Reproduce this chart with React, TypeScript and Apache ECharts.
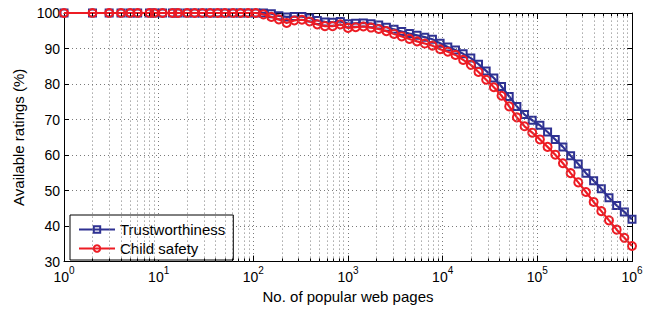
import React, { useEffect, useRef } from "react";
import * as echarts from "echarts";

// x: number of popular web pages (log-spaced sample points)
const pages = [
  1, 2, 3, 4, 5, 6, 8, 9, 11, 14, 16, 20, 24, 29, 35, 42, 50, 61, 73, 88,
  106, 128, 155, 186, 225, 271, 326, 393, 474, 571, 688, 830,
  1000, 1205, 1453, 1751, 2110, 2543, 3065, 3694, 4453, 5367, 6469, 7797, 9397,
  11326, 13651, 16453, 19830, 23901, 28808, 34721, 41849, 50440, 60794, 73273, 88315,
  106445, 128296, 154633, 186377, 224638, 270754, 326336, 393328, 474071, 571390, 688687, 830064,
  1000000,
];

const trustworthiness = [
  100, 100, 100, 100, 100, 100, 100, 100, 100, 100, 100, 100, 100, 100, 100, 100, 100, 100, 100, 100,
  100, 100, 99.8, 99.2, 98.9, 99.0, 99.0, 98.6, 97.9, 97.5, 97.4, 97.6,
  97.0, 97.1, 97.2, 97.0, 96.6, 96.0, 95.4, 94.8, 94.2, 93.7, 93.2, 92.6, 91.5,
  90.4, 89.6, 88.5, 87.3, 85.6, 83.7, 81.7, 79.3, 76.5, 73.7, 71.4, 69.8,
  68.4, 66.5, 64.4, 62.3, 59.8, 57.5, 54.9, 52.8, 50.5, 48.0, 45.8, 44.0,
  41.9,
];

const childSafety = [
  100, 100, 100, 100, 100, 100, 100, 100, 100, 100, 100, 100, 100, 100, 100, 100, 100, 100, 100, 100,
  100, 99.6, 98.9, 98.2, 97.2, 97.9, 98.1, 97.6, 96.8, 96.3, 96.3, 96.8,
  95.8, 96.0, 96.2, 95.9, 95.5, 94.9, 94.1, 93.4, 92.7, 92.0, 91.4, 90.8, 89.8,
  89.1, 88.2, 86.8, 85.4, 83.4, 81.2, 79.1, 76.7, 73.7, 70.6, 68.1, 66.3,
  64.4, 62.3, 60.1, 57.7, 54.9, 52.3, 49.6, 46.8, 44.2, 41.6, 39.0, 36.7,
  34.4,
];

const decades = [1, 10, 100, 1000, 10000, 100000];
const minorMultipliers = [2, 3, 4, 5, 6, 7, 8, 9];
const yMin = 30;
const yMax = 100;

const FONT = "'Liberation Sans', Arial, Helvetica, sans-serif";

export default function App() {
  const ref = useRef<HTMLDivElement>(null);

  useEffect(() => {
    if (!ref.current) return;
    const chart = echarts.init(ref.current, undefined, { renderer: "svg" });

    const minorX = decades.flatMap((d) => minorMultipliers.map((m) => m * d));
    const dotted = { type: [1, 3] as any, color: "#7a7a7a", width: 1 };

    const option: any = {
      animation: false,
      backgroundColor: "#fff",
      textStyle: { fontFamily: FONT },
      grid: { left: 64, right: 24, top: 13, bottom: 46, containLabel: false },
      legend: {
        data: ["Trustworthiness", "Child safety"],
        orient: "vertical",
        left: 70,
        top: 215,
        padding: [7, 8, 4, 8],
        itemGap: 4,
        itemWidth: 36,
        itemHeight: 8,
        backgroundColor: "#fff",
        borderColor: "#000",
        borderWidth: 1,
        borderRadius: 0,
        textStyle: { fontSize: 15, color: "#000", fontFamily: FONT, lineHeight: 14 },
      },
      xAxis: [
        {
          type: "log",
          logBase: 10,
          min: 1,
          max: 1000000,
          name: "No. of popular web pages",
          nameLocation: "middle",
          nameGap: 26,
          nameTextStyle: { fontSize: 15, color: "#000", fontFamily: FONT },
          axisLine: { show: true, lineStyle: { color: "#000", width: 1 } },
          axisTick: { show: true, inside: true, length: 6, lineStyle: { color: "#000" } },
          axisLabel: {
            margin: 5,
            color: "#000",
            formatter: (v: number) => `{b|10}{e|${Math.round(Math.log10(v))}}`,
            rich: {
              b: { fontSize: 14, fontFamily: FONT, color: "#000", lineHeight: 16, padding: [5, 0, 0, 0] },
              e: { fontSize: 10, fontFamily: FONT, color: "#000", lineHeight: 12, padding: [0, 0, 9, 0] },
            },
          },
          splitLine: { show: true, lineStyle: dotted },
        },
        {
          type: "log",
          logBase: 10,
          min: 1,
          max: 1000000,
          position: "top",
          axisLine: { show: true, lineStyle: { color: "#000", width: 1 } },
          axisTick: { show: true, inside: true, length: 6, lineStyle: { color: "#000" } },
          axisLabel: { show: false },
          splitLine: { show: false },
        },
      ],
      yAxis: [
        {
          type: "value",
          min: yMin,
          max: yMax,
          interval: 10,
          name: "Available ratings (%)",
          nameLocation: "middle",
          nameGap: 36,
          nameTextStyle: { fontSize: 15, color: "#000", fontFamily: FONT },
          axisLine: { show: true, lineStyle: { color: "#000", width: 1 } },
          axisTick: { show: true, inside: true, length: 5, lineStyle: { color: "#000" } },
          axisLabel: { fontSize: 14, color: "#000", margin: 4, fontFamily: FONT },
          splitLine: { show: true, lineStyle: dotted },
        },
        {
          type: "value",
          min: yMin,
          max: yMax,
          interval: 10,
          position: "right",
          axisLine: { show: true, lineStyle: { color: "#000", width: 1 } },
          axisTick: { show: true, inside: true, length: 5, lineStyle: { color: "#000" } },
          axisLabel: { show: false },
          splitLine: { show: false },
        },
      ],
      series: [
        {
          name: "gridlines",
          type: "line",
          data: [],
          silent: true,
          z: 0,
          markLine: {
            silent: true,
            symbol: ["none", "none"],
            label: { show: false },
            lineStyle: dotted,
            emphasis: { disabled: true },
            data: minorX.map((x) => ({ xAxis: x })),
          },
        },
        {
          name: "ticks",
          type: "line",
          data: [],
          silent: true,
          z: 1,
          markLine: {
            silent: true,
            symbol: ["none", "none"],
            label: { show: false },
            lineStyle: { type: "solid", color: "#000", width: 1 },
            emphasis: { disabled: true },
            data: minorX.flatMap((x) => [
              [{ coord: [x, yMin] }, { coord: [x, yMin + 0.9] }],
              [{ coord: [x, yMax] }, { coord: [x, yMax - 0.9] }],
            ]),
          },
        },
        {
          name: "Trustworthiness",
          type: "line",
          z: 3,
          data: pages.map((p, i) => [p, trustworthiness[i]]),
          symbol: "rect",
          symbolSize: 7,
          lineStyle: { color: "#2e3192", width: 2.2 },
          itemStyle: { color: "rgba(0,0,0,0)", borderColor: "#2e3192", borderWidth: 2 },
        },
        {
          name: "Child safety",
          type: "line",
          z: 4,
          data: pages.map((p, i) => [p, childSafety[i]]),
          symbol: "circle",
          symbolSize: 8,
          lineStyle: { color: "#ed1c24", width: 2.2 },
          itemStyle: { color: "rgba(0,0,0,0)", borderColor: "#ed1c24", borderWidth: 2 },
        },
      ],
    };

    chart.setOption(option);
    return () => chart.dispose();
  }, []);

  return (
    <div
      ref={ref}
      style={{ position: "fixed", left: 0, top: 0, width: 656, height: 309, background: "#fff" }}
    />
  );
}
